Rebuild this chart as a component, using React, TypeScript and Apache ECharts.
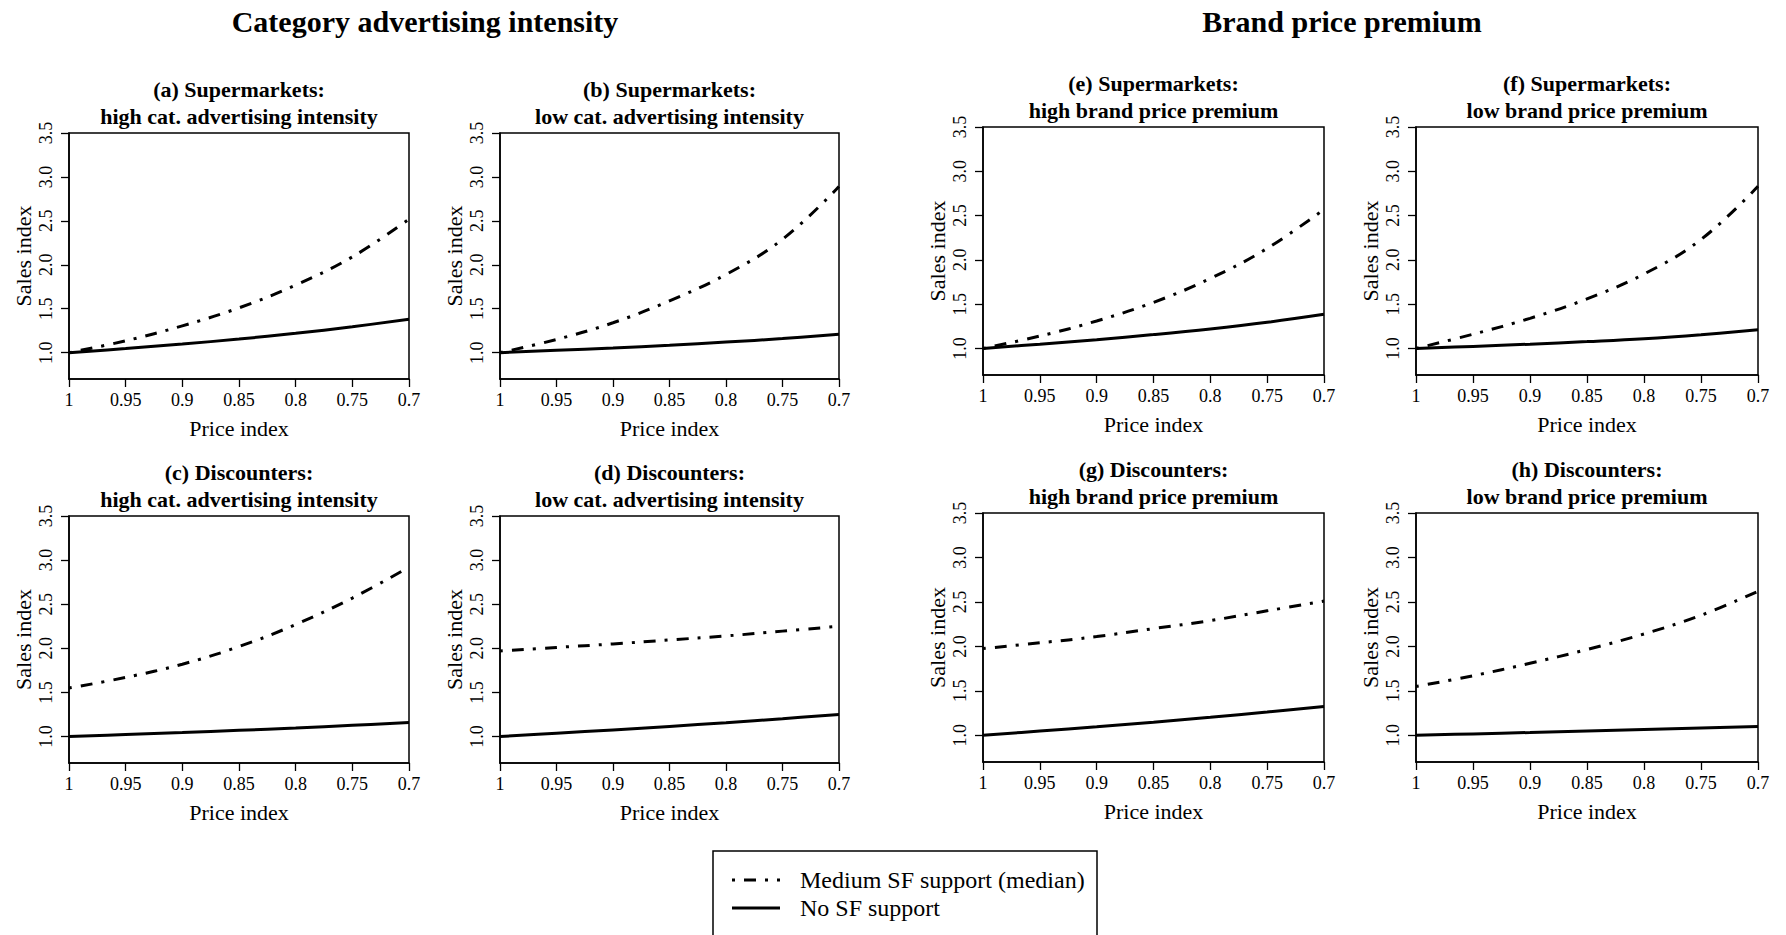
import React, { useEffect, useRef } from "react";
import * as echarts from "echarts";

const priceIndex = [1, 0.95, 0.9, 0.85, 0.8, 0.75, 0.7];
const xTicks = [1, 0.95, 0.9, 0.85, 0.8, 0.75, 0.7];
const yTicks = [1.0, 1.5, 2.0, 2.5, 3.0, 3.5];

const medA = [1.0, 1.135, 1.305, 1.51, 1.77, 2.09, 2.52];
const noA = [1.0, 1.047, 1.098, 1.155, 1.22, 1.295, 1.38];
const medB = [1.0, 1.15, 1.34, 1.59, 1.89, 2.29, 2.89];
const noB = [1.0, 1.027, 1.053, 1.083, 1.12, 1.16, 1.21];
const medC = [1.55, 1.67, 1.82, 2.02, 2.27, 2.57, 2.92];
const noC = [1.0, 1.022, 1.045, 1.07, 1.097, 1.127, 1.16];
const medD = [1.97, 2.01, 2.05, 2.095, 2.14, 2.195, 2.25];
const noD = [1.0, 1.037, 1.075, 1.115, 1.157, 1.202, 1.25];
const medE = [1.0, 1.14, 1.31, 1.52, 1.79, 2.13, 2.57];
const noE = [1.0, 1.048, 1.099, 1.156, 1.22, 1.295, 1.385];
const medF = [1.0, 1.16, 1.34, 1.56, 1.84, 2.23, 2.83];
const noF = [1.0, 1.023, 1.048, 1.077, 1.11, 1.155, 1.21];
const medG = [1.975, 2.04, 2.11, 2.2, 2.29, 2.4, 2.51];
const noG = [1.0, 1.048, 1.097, 1.148, 1.203, 1.262, 1.325];
const medH = [1.55, 1.67, 1.81, 1.965, 2.14, 2.35, 2.62];
const noH = [1.0, 1.016, 1.032, 1.049, 1.066, 1.083, 1.1];

const titleLine1 = [
  "(a) Supermarkets:", "(b) Supermarkets:", "(c) Discounters:", "(d) Discounters:",
  "(e) Supermarkets:", "(f) Supermarkets:", "(g) Discounters:", "(h) Discounters:",
];
const titleLine2 = [
  "high cat. advertising intensity", "low cat. advertising intensity",
  "high cat. advertising intensity", "low cat. advertising intensity",
  "high brand price premium", "low brand price premium",
  "high brand price premium", "low brand price premium",
];
const medSeries = [medA, medB, medC, medD, medE, medF, medG, medH];
const noSeries = [noA, noB, noC, noD, noE, noF, noG, noH];

const sectionTitles = ["Category advertising intensity", "Brand price premium"];
const legendLabels = ["Medium SF support (median)", "No SF support"];

// layout: [left, top, width, height]
const boxes = [
  [69, 133, 340, 246],
  [500, 133, 339, 246],
  [69, 516, 340, 247],
  [500, 516, 339, 247],
  [983, 127, 341, 248],
  [1416, 127, 342, 248],
  [983, 513, 341, 249],
  [1416, 513, 342, 249],
];

const FONT = "'Liberation Serif', 'Times New Roman', serif";
const DOTDASH = [3, 9, 12, 9];

function buildOption() {
  const grid: any[] = [];
  const xAxis: any[] = [];
  const yAxis: any[] = [];
  const series: any[] = [];
  const graphic: any[] = [];

  boxes.forEach((b, i) => {
    const [l, t, w, h] = b;
    grid.push({
      left: l, top: t, width: w, height: h,
      show: true, borderColor: "#000", borderWidth: 1.5, backgroundColor: "transparent",
    });
    xAxis.push({
      type: "value", gridIndex: i, min: 0.7, max: 1, inverse: true, interval: 0.05,
      name: "Price index", nameLocation: "middle", nameGap: 38,
      nameTextStyle: { fontFamily: FONT, fontSize: 22, color: "#000" },
      axisLine: { show: true, onZero: false, lineStyle: { color: "#000", width: 1.5 } },
      axisTick: { show: true, length: 8, lineStyle: { color: "#000", width: 1.3 }, customValues: xTicks },
      axisLabel: {
        fontFamily: FONT, fontSize: 18, color: "#000", margin: 12, customValues: xTicks,
        showMinLabel: true, showMaxLabel: true,
        formatter: (v: number) => String(+v.toFixed(2)),
      },
      splitLine: { show: false },
    });
    yAxis.push({
      type: "value", gridIndex: i, min: 0.7, max: 3.5,
      name: "Sales index", nameLocation: "middle", nameGap: 35,
      nameTextStyle: { fontFamily: FONT, fontSize: 22, color: "#000" },
      axisLine: { show: true, onZero: false, lineStyle: { color: "#000", width: 1.5 } },
      axisTick: { show: true, length: 8, lineStyle: { color: "#000", width: 1.3 }, customValues: yTicks },
      axisLabel: {
        fontFamily: FONT, fontSize: 18, color: "#000", margin: 14, rotate: 90,
        customValues: yTicks, showMinLabel: true, showMaxLabel: true,
        formatter: (v: number) => v.toFixed(1),
      },
      splitLine: { show: false },
    });
    series.push({
      type: "line", xAxisIndex: i, yAxisIndex: i, name: legendLabels[0],
      data: priceIndex.map((x, k) => [x, medSeries[i][k]]),
      showSymbol: false, smooth: 0.4,
      lineStyle: { color: "#000", width: 3, type: DOTDASH, cap: "butt" },
    });
    series.push({
      type: "line", xAxisIndex: i, yAxisIndex: i, name: legendLabels[1],
      data: priceIndex.map((x, k) => [x, noSeries[i][k]]),
      showSymbol: false, smooth: 0.4,
      lineStyle: { color: "#000", width: 3, type: "solid" },
    });
    const cx = l + w / 2;
    graphic.push({
      type: "text", x: cx, y: t - 44,
      style: { text: titleLine1[i], fontFamily: FONT, fontSize: 22, fontWeight: "bold", fill: "#000", align: "center", verticalAlign: "middle" },
    });
    graphic.push({
      type: "text", x: cx, y: t - 17,
      style: { text: titleLine2[i], fontFamily: FONT, fontSize: 22, fontWeight: "bold", fill: "#000", align: "center", verticalAlign: "middle" },
    });
  });

  graphic.push({
    type: "text", x: 425, y: 21,
    style: { text: sectionTitles[0], fontFamily: FONT, fontSize: 30, fontWeight: "bold", fill: "#000", align: "center", verticalAlign: "middle" },
  });
  graphic.push({
    type: "text", x: 1342, y: 21,
    style: { text: sectionTitles[1], fontFamily: FONT, fontSize: 30, fontWeight: "bold", fill: "#000", align: "center", verticalAlign: "middle" },
  });

  // legend box
  graphic.push({
    type: "rect", shape: { x: 713, y: 851, width: 384, height: 200 },
    style: { fill: "none", stroke: "#000", lineWidth: 1.5 },
  });
  graphic.push({
    type: "line", shape: { x1: 732, y1: 880, x2: 780, y2: 880 },
    style: { stroke: "#000", lineWidth: 3, lineDash: DOTDASH },
  });
  graphic.push({
    type: "line", shape: { x1: 732, y1: 908, x2: 780, y2: 908 },
    style: { stroke: "#000", lineWidth: 3 },
  });
  graphic.push({
    type: "text", x: 800, y: 880,
    style: { text: legendLabels[0], fontFamily: FONT, fontSize: 24, fill: "#000", align: "left", verticalAlign: "middle" },
  });
  graphic.push({
    type: "text", x: 800, y: 908,
    style: { text: legendLabels[1], fontFamily: FONT, fontSize: 24, fill: "#000", align: "left", verticalAlign: "middle" },
  });

  return {
    animation: false,
    backgroundColor: "#fff",
    textStyle: { fontFamily: FONT, color: "#000" },
    grid, xAxis, yAxis, series, graphic,
  };
}

export default function App() {
  const ref = useRef<HTMLDivElement>(null);
  useEffect(() => {
    if (!ref.current) return;
    const chart = echarts.init(ref.current, null, { renderer: "svg", width: 1786, height: 935 });
    chart.setOption(buildOption() as any);
    return () => chart.dispose();
  }, []);
  return (
    <div
      ref={ref}
      style={{ position: "fixed", left: 0, top: 0, width: 1786, height: 935, background: "#fff" }}
    />
  );
}
